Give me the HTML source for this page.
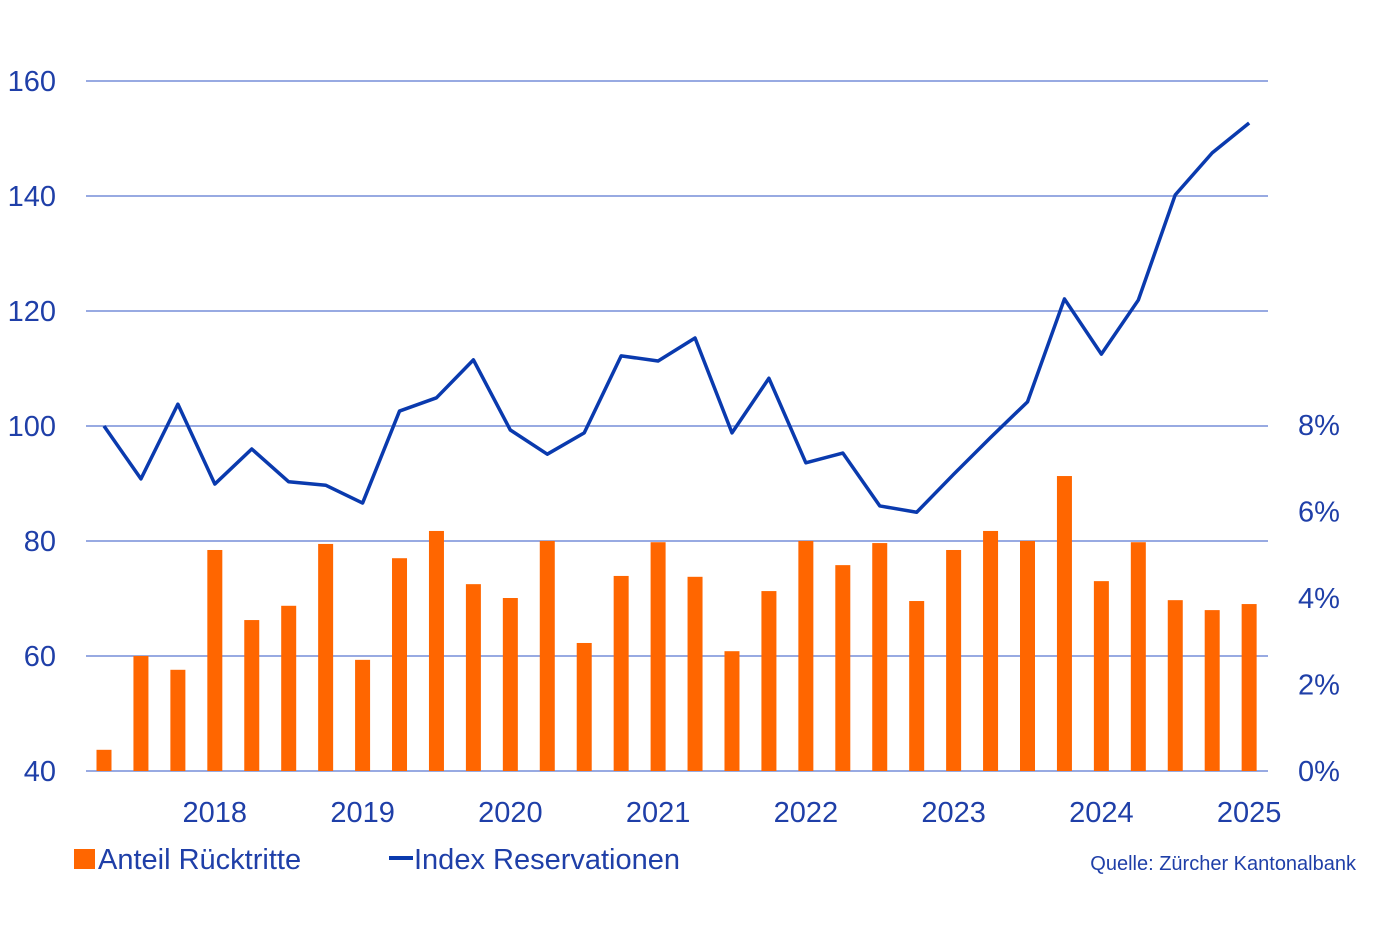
<!DOCTYPE html>
<html><head><meta charset="utf-8"><style>
body{margin:0;background:#fff;}
svg{display:block;font-family:"Liberation Sans",sans-serif;}
</style></head><body>
<svg id="chart" width="1400" height="933" viewBox="0 0 1400 933">
<g id="grid"></g><g id="bars"></g><g id="line"></g><g id="axes"></g>
<g>
<rect x="74" y="849" width="21" height="20" fill="#ff6600"/>
<text x="98" y="869" font-size="29" fill="#1f3fa8">Anteil Rücktritte</text>
<line x1="389" y1="858" x2="413" y2="858" stroke="#0a3aae" stroke-width="4"/>
<text x="414" y="869" font-size="29" fill="#1f3fa8">Index Reservationen</text>
</g>
<text x="1356" y="870" font-size="20" text-anchor="end" fill="#1f3fa8">Quelle: Zürcher Kantonalbank</text>
</svg>
<script>
const indexValues=[100,90.8,103.8,89.9,96,90.3,89.7,86.6,102.6,104.9,111.5,99.3,95.1,98.8,112.2,111.3,115.3,98.8,108.3,93.6,95.3,86.1,85,91.6,98,104.2,122.1,112.5,121.9,140.2,147.5,152.7];
const shareValues=[0.49,2.66,2.34,5.11,3.49,3.82,5.25,2.57,4.92,5.55,4.32,4.0,5.32,2.96,4.51,5.29,4.49,2.77,4.16,5.32,4.76,5.27,3.93,5.11,5.55,5.32,6.82,4.39,5.29,3.95,3.72,3.86];
const leftTicks=[40,60,80,100,120,140,160];
const rightTicks=[0,2,4,6,8];
const yearLabels=["2018","2019","2020","2021","2022","2023","2024","2025"];
const NS="http://www.w3.org/2000/svg";
const xS=i=>104+i*36.94;
const yL=v=>771-(v-40)*5.75;
const yR=v=>771-v*43.25;
function mk(t,a,p){const e=document.createElementNS(NS,t);for(const k in a)e.setAttribute(k,a[k]);p.appendChild(e);return e;}
const grid=document.getElementById('grid'),axes=document.getElementById('axes'),bars=document.getElementById('bars'),line=document.getElementById('line');
leftTicks.forEach(v=>{
 const l=mk('line',{x1:86,x2:1268,y1:yL(v),y2:yL(v),stroke:'#5a78d0','stroke-width':1.2},grid);
 
 
 const t=mk('text',{x:56,y:yL(v)+10,'font-size':29,'text-anchor':'end',fill:'#1f3fa8'},axes);t.textContent=v;
 
 
});
rightTicks.forEach(v=>{
 const t=mk('text',{x:1298,y:yR(v)+10,'font-size':29,fill:'#1f3fa8'},axes);t.textContent=v+'%';
 
 
});
yearLabels.forEach((y,k)=>{
 const t=mk('text',{x:xS(3+k*4),y:822,'font-size':29,'text-anchor':'middle',fill:'#1f3fa8'},axes);t.textContent=y;
 
 
});
shareValues.forEach((v,i)=>{
 const r=mk('rect',{x:xS(i)-7.5,y:yR(v),width:15,height:771-yR(v),fill:'#ff6600'},bars);
 
 
});
const p=mk('polyline',{points:indexValues.map((v,i)=>xS(i)+','+yL(v)).join(' '),fill:'none',stroke:'#0a3aae','stroke-width':3.5,'stroke-linejoin':'round'},line);


</script>
</body></html>
